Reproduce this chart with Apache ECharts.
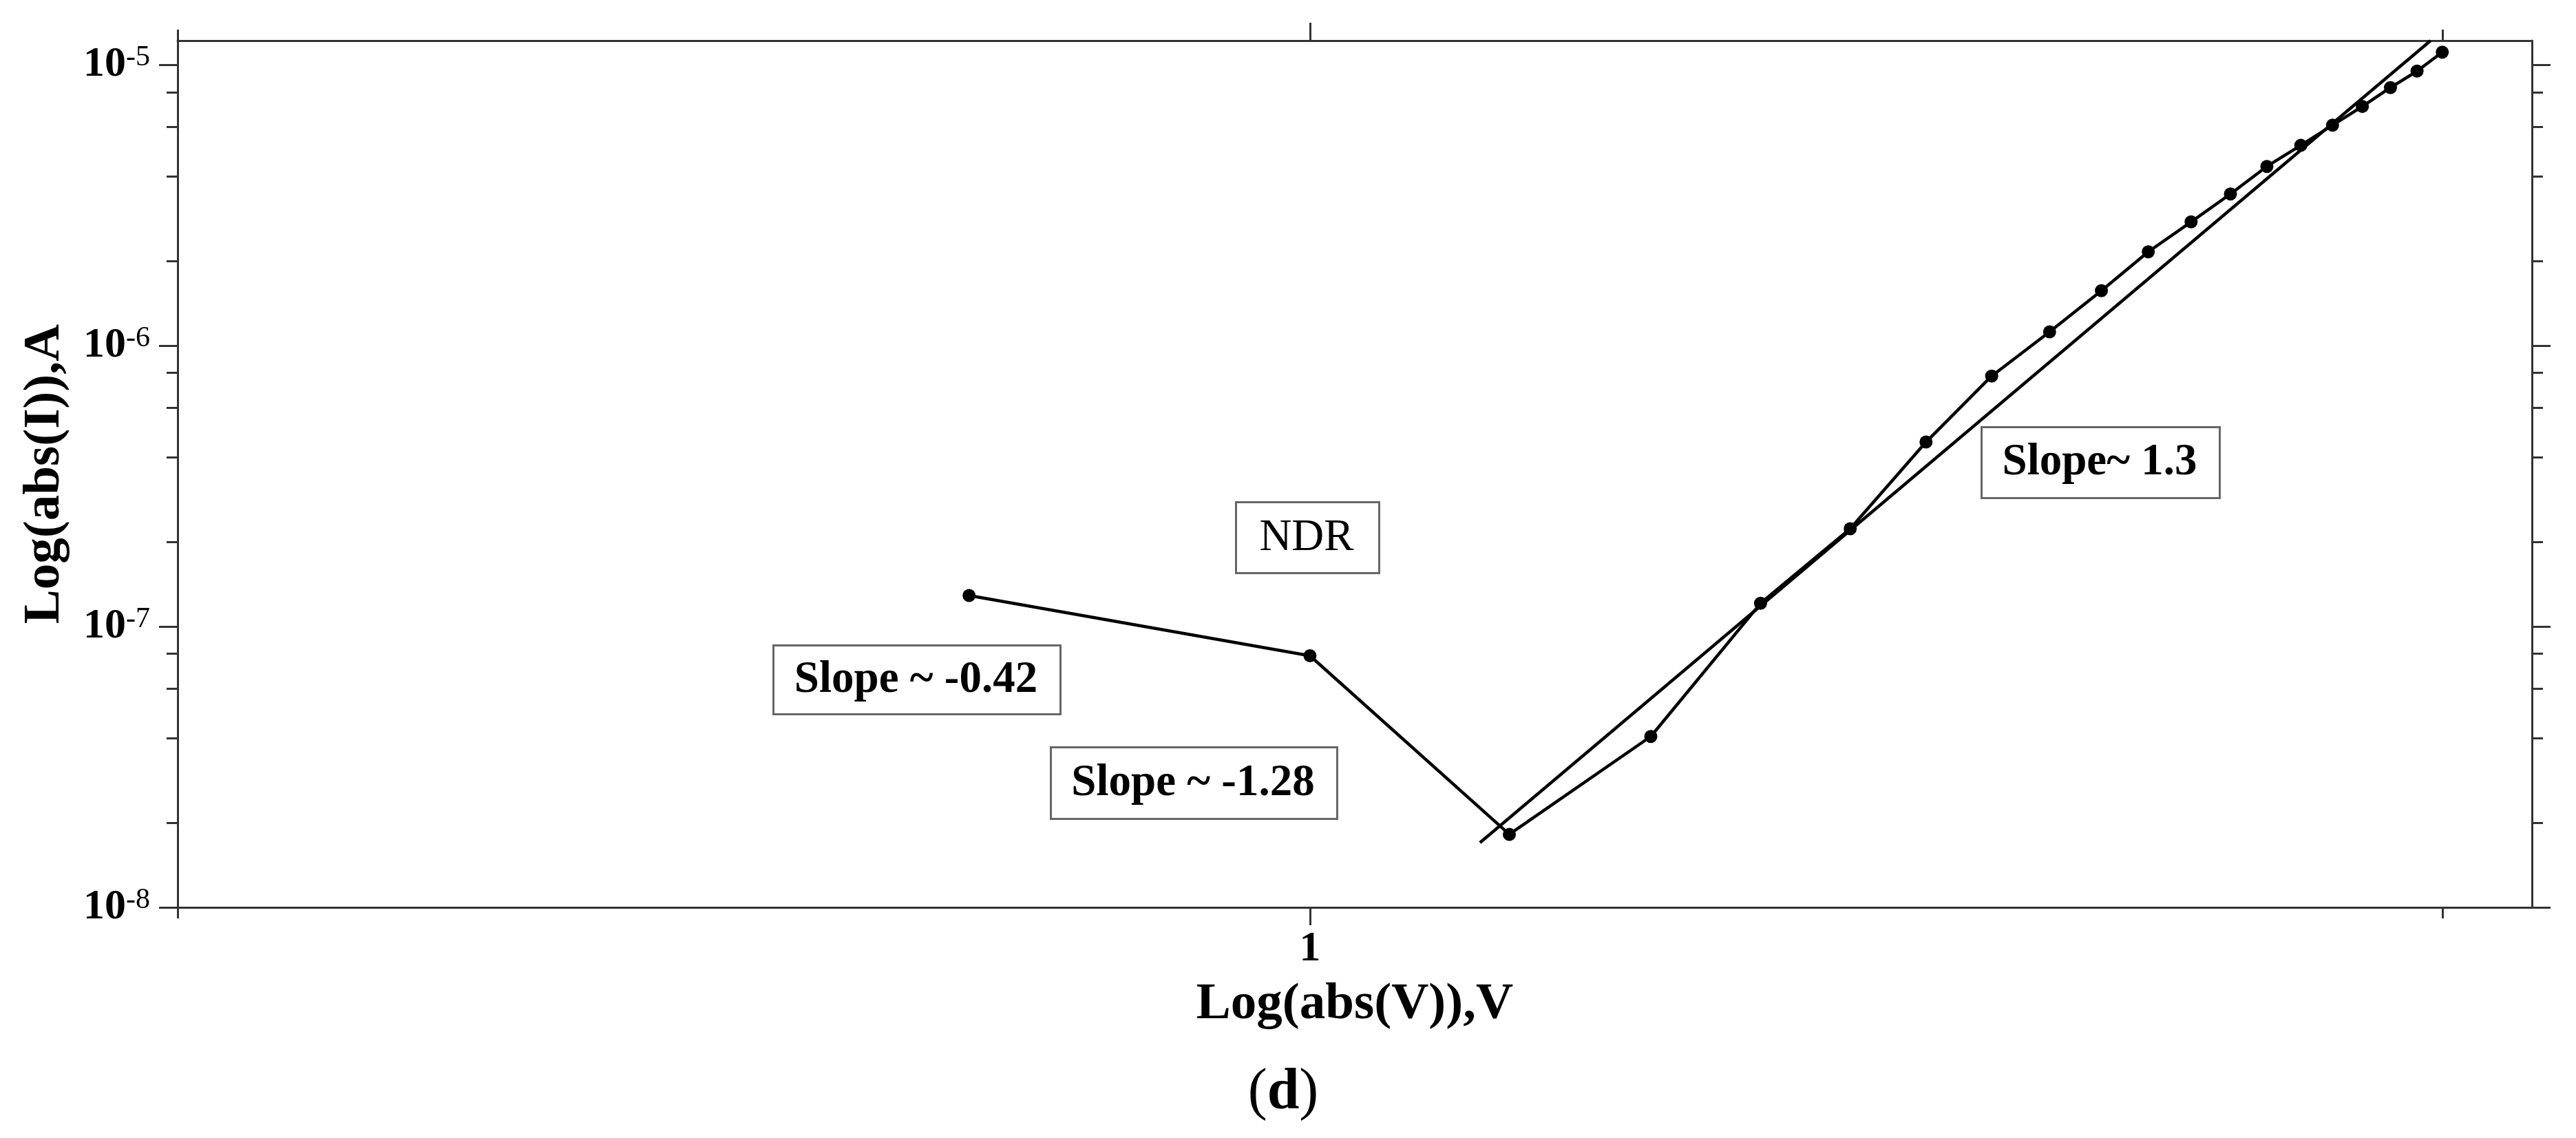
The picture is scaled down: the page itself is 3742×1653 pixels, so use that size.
<!DOCTYPE html>
<html><head><meta charset="utf-8">
<script src="https://cdn.jsdelivr.net/npm/echarts@6/dist/echarts.min.js"></script>
<style>html,body{margin:0;padding:0;background:#fff}#c{width:3742px;height:1653px}</style>
</head><body><div id="c"></div>
<script>
// ---- data ----
const voltage = [0.5, 1, 1.5, 2, 2.5, 3, 3.5, 4, 4.5, 5, 5.5, 6, 6.5, 7, 7.5, 8, 8.5, 9, 9.5, 10];
const current = [1.29e-7, 7.87e-8, 1.82e-8, 4.06e-8, 1.21e-7, 2.23e-7, 4.54e-7, 7.8e-7, 1.12e-6, 1.57e-6,
                 2.16e-6, 2.76e-6, 3.47e-6, 4.35e-6, 5.17e-6, 6.1e-6, 7.11e-6, 8.3e-6, 9.5e-6, 1.11e-5];
const fitVoltage = [1.413, 9.766];
const fitCurrent = [1.70e-8, 1.22e-5];
const xMajorTicks = [1];
const xMinorTicks = [0.1, 10];
const yMajorTicks = [1e-8, 1e-7, 1e-6, 1e-5];
const yMinorTicks = [2e-8, 4e-8, 6e-8, 8e-8, 2e-7, 4e-7, 6e-7, 8e-7, 2e-6, 4e-6, 6e-6, 8e-6];
const annotationTexts = ['NDR', 'Slope ~ -0.42', 'Slope ~ -1.28', 'Slope~ 1.3'];
const xTitle = 'Log(abs(V)),V';
const yTitle = 'Log(abs(I)),A';

// ---- styling / layout ----
const FONT = "'Liberation Serif', 'Times New Roman', serif";
const AX = '#333';
const X_MIN = 0.1, X_MAX = 12, Y_MIN = 1e-8, Y_MAX = 1.22e-5;

function xAxisDef(pos, ticks, len, main) {
  return {
    type: 'log', logBase: 10, position: pos, min: X_MIN, max: X_MAX,
    splitLine: {show: false},
    axisLine: {show: main, onZero: false, lineStyle: {color: AX, width: 3}},
    axisTick: {show: true, customValues: ticks, length: len, lineStyle: {color: AX, width: 3}},
    axisLabel: (pos === 'bottom' && main) ? {
      show: true, customValues: xMajorTicks, margin: 30, color: '#000',
      fontFamily: FONT, fontWeight: 'bold', fontSize: 62,
      formatter: v => String(Math.round(v * 1000) / 1000)
    } : {show: false},
    name: (pos === 'bottom' && main) ? xTitle : '',
    nameLocation: 'middle', nameGap: 104,
    nameTextStyle: {color: '#000', fontFamily: FONT, fontWeight: 'bold', fontSize: 75}
  };
}
function yAxisDef(pos, ticks, len, main) {
  return {
    type: 'log', logBase: 10, position: pos, min: Y_MIN, max: Y_MAX,
    splitLine: {show: false},
    axisLine: {show: main, onZero: false, lineStyle: {color: AX, width: 3}},
    axisTick: {show: true, customValues: ticks, length: len, lineStyle: {color: AX, width: 3}},
    axisLabel: (pos === 'left' && main) ? {
      show: true, customValues: yMajorTicks, margin: 40, color: '#000',
      formatter: v => '{b|10}{s|' + Math.round(Math.log10(v)) + '}',
      rich: {
        b: {fontFamily: FONT, fontWeight: 'bold', fontSize: 62, lineHeight: 62, color: '#000'},
        s: {fontFamily: FONT, fontWeight: 'normal', fontSize: 42, lineHeight: 42, verticalAlign: 'top', color: '#000'}
      }
    } : {show: false},
    name: (pos === 'left' && main) ? yTitle : '',
    nameLocation: 'middle', nameGap: 155,
    nameTextStyle: {color: '#000', fontFamily: FONT, fontWeight: 'bold', fontSize: 75}
  };
}

// annotation boxes: [left, top, width, height, bold]
const boxLayout = [
  [1794, 728, 208, 103, false],
  [1122, 936, 417, 100, true],
  [1525, 1084, 416, 104, true],
  [2877, 619, 346, 103, true]
];
const graphics = [];
boxLayout.forEach((b, i) => {
  graphics.push({
    type: 'rect', left: b[0], top: b[1], z: 100,
    shape: {width: b[2], height: b[3]},
    style: {fill: '#fff', stroke: '#666', lineWidth: 3}
  });
  graphics.push({
    type: 'text', x: b[0] + b[2] / 2, y: b[1] + b[3] / 2 + 2, z: 101,
    style: {
      text: annotationTexts[i], align: 'center', verticalAlign: 'middle',
      fontFamily: FONT, fontSize: 65, fontWeight: b[4] ? 'bold' : 'normal', fill: '#000'
    }
  });
});
graphics.push({
  type: 'text', x: 1864, y: 1588, z: 101,
  style: {
    text: '{r|(}{b|d}{r|)}', align: 'center', verticalAlign: 'middle',
    rich: {
      r: {fontFamily: FONT, fontSize: 84, fontWeight: 'normal', fill: '#000', color: '#000'},
      b: {fontFamily: FONT, fontSize: 84, fontWeight: 'bold', fill: '#000', color: '#000'}
    }
  }
});

const chart = echarts.init(document.getElementById('c'), null, {renderer: 'canvas'});
chart.setOption({
  animation: false,
  backgroundColor: '#fff',
  grid: {left: 258, right: 64, top: 59, bottom: 335, containLabel: false},
  xAxis: [
    xAxisDef('bottom', xMajorTicks, 26, true),
    xAxisDef('bottom', xMinorTicks, 16, false),
    xAxisDef('top', xMajorTicks, 26, true),
    xAxisDef('top', xMinorTicks, 16, false)
  ],
  yAxis: [
    yAxisDef('left', yMajorTicks, 27, true),
    yAxisDef('left', yMinorTicks, 16, false),
    yAxisDef('right', yMajorTicks, 27, true),
    yAxisDef('right', yMinorTicks, 16, false)
  ],
  series: [
    {
      type: 'line', xAxisIndex: 0, yAxisIndex: 0,
      data: voltage.map((v, i) => [v, current[i]]),
      symbol: 'circle', symbolSize: 19, showAllSymbol: true,
      itemStyle: {color: '#000'},
      lineStyle: {color: '#000', width: 4.5}
    },
    {
      type: 'line', xAxisIndex: 0, yAxisIndex: 0,
      data: fitVoltage.map((v, i) => [v, fitCurrent[i]]),
      symbol: 'none',
      lineStyle: {color: '#000', width: 4.5}
    }
  ],
  graphic: graphics
});
</script></body></html>
